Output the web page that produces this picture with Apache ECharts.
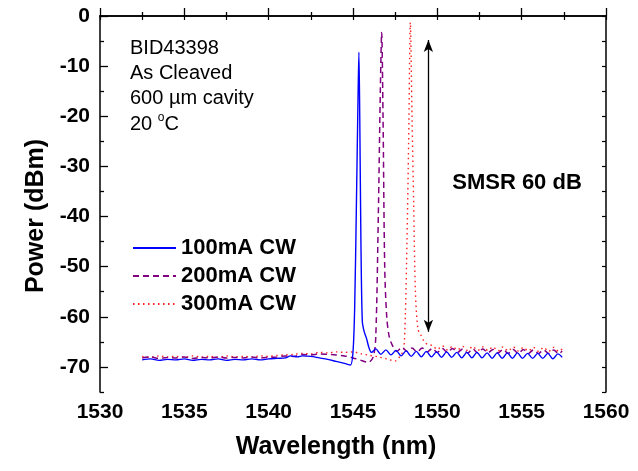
<!DOCTYPE html>
<html>
<head>
<meta charset="utf-8">
<script src="https://cdn.jsdelivr.net/npm/echarts@6/dist/echarts.min.js"></script>
<style>html,body{margin:0;padding:0;background:#fff;}#c{width:638px;height:471px;}</style>
</head>
<body>
<div id="c"></div>
<script>
// ---- data ----
const seriesNames = ['100mA CW', '200mA CW', '300mA CW'];

const wl100 = [1532.5,1533.0,1533.5,1534.0,1534.5,1535.0,1535.5,1536.0,1536.5,1537.0,1537.5,1538.0,1538.5,1539.0,1539.5,1540.0,1540.5,1541.0,1541.3,1541.7,1542.0,1542.5,1543.0,1543.5,1544.0,1544.5,1544.85,1545.0,1545.1,1545.2,1545.3,1545.35,1545.4,1545.47,1545.55,1545.65,1545.8,1545.95,1546.1,
  1546.35,1546.65,1546.95,1547.25,1547.55,1547.85,1548.15,1548.45,1548.75,1549.05,1549.35,1549.65,1549.95,1550.25,1550.55,1550.85,1551.15,1551.45,1551.75,1552.05,1552.35,1552.65,1552.95,1553.25,1553.55,1553.85,1554.15,1554.45,1554.75,1555.05,1555.35,1555.65,1555.95,1556.25,1556.55,1556.85,1557.15,1557.4];
const p100 = [-68.6,-68.4,-68.7,-68.5,-68.6,-68.4,-68.7,-68.5,-68.6,-68.4,-68.7,-68.5,-68.6,-68.4,-68.6,-68.4,-68.3,-68.2,-67.8,-68.0,-67.8,-67.9,-68.2,-68.5,-68.9,-69.3,-69.6,-67.0,-58.0,-38.0,-16.0,-7.2,-20.0,-45.0,-60.8,-62.8,-64.3,-66.2,-67.1,
  -66.4,-67.5,-66.6,-67.6,-66.7,-67.8,-66.8,-67.9,-66.9,-68.0,-66.9,-68.0,-67.0,-68.1,-67.0,-68.1,-67.1,-68.2,-67.1,-68.2,-67.1,-68.2,-67.2,-68.3,-67.2,-68.3,-67.2,-68.3,-67.2,-68.3,-67.3,-68.3,-67.3,-68.3,-67.3,-68.4,-67.4,-68.1];

const wl200 = [1532.5,1533.0,1533.5,1534.0,1534.5,1535.0,1535.5,1536.0,1536.5,1537.0,1537.5,1538.0,1538.5,1539.0,1539.5,1540.0,1540.5,1541.0,1541.5,1542.0,1542.5,1543.0,1543.5,1544.0,1544.5,1545.0,1545.5,1545.9,1546.2,1546.35,1546.5,1546.62,1546.7,1546.78,1546.88,1547.0,1547.15,1547.35,
  1547.6,1547.9,1548.2,1548.5,1548.8,1549.1,1549.4,1549.7,1550.0,1550.3,1550.6,1550.9,1551.2,1551.5,1551.8,1552.1,1552.4,1552.7,1553.0,1553.3,1553.6,1553.9,1554.2,1554.5,1554.8,1555.1,1555.4,1555.7,1556.0,1556.3,1556.6,1556.9,1557.2,1557.4];
const p200 = [-68.2,-68.0,-68.3,-68.1,-68.2,-68.0,-68.3,-68.1,-68.2,-68.0,-68.2,-68.1,-68.2,-68.0,-68.2,-68.1,-68.0,-67.8,-67.9,-67.5,-67.6,-67.4,-67.5,-67.6,-67.8,-68.2,-68.7,-69.1,-68.0,-64.0,-40.0,-15.0,-3.3,-20.0,-50.0,-60.0,-64.0,-65.8,
  -66.9,-66.1,-66.9,-66.2,-67.0,-66.2,-67.0,-66.3,-67.1,-66.3,-67.1,-66.3,-67.1,-66.4,-67.2,-66.4,-67.2,-66.4,-67.2,-66.5,-67.2,-66.5,-67.3,-66.5,-67.3,-66.5,-67.3,-66.6,-67.3,-66.6,-67.3,-66.6,-67.4,-66.8];

const wl300 = [1532.5,1533.0,1533.5,1534.0,1534.5,1535.0,1535.5,1536.0,1536.5,1537.0,1537.5,1538.0,1538.5,1539.0,1539.5,1540.0,1540.5,1541.0,1541.5,1542.0,1542.5,1543.0,1543.5,1544.0,1544.5,1545.0,1545.5,1546.0,1546.5,1547.0,1547.5,1547.8,1548.0,1548.1,1548.2,1548.3,1548.4,1548.5,1548.6,1548.7,1548.85,1549.0,1549.2,1549.45,1549.7,
  1550.0,1550.3,1550.6,1550.9,1551.2,1551.5,1551.8,1552.1,1552.4,1552.7,1553.0,1553.3,1553.6,1553.9,1554.2,1554.5,1554.8,1555.1,1555.4,1555.7,1556.0,1556.3,1556.6,1556.9,1557.2,1557.4];
const p300 = [-67.9,-68.1,-67.8,-68.0,-67.9,-68.1,-67.8,-68.0,-67.9,-68.1,-67.8,-68.0,-67.9,-68.0,-67.8,-67.9,-67.7,-67.6,-67.5,-67.3,-67.4,-67.1,-67.2,-67.0,-67.1,-67.0,-67.4,-67.7,-68.0,-68.4,-68.8,-67.8,-66.5,-60.0,-45.0,-25.0,-1.3,-20.0,-38.0,-55.0,-62.5,-63.5,-64.8,-65.6,-65.7,
  -66.5,-65.8,-66.6,-65.9,-66.6,-65.9,-66.7,-65.9,-66.7,-66.0,-66.7,-66.0,-66.8,-66.0,-66.8,-66.0,-66.8,-66.1,-66.8,-66.1,-66.9,-66.1,-66.9,-66.1,-66.9,-66.4];

// SMSR arrow: wavelength, bottom power, top power
const smsrArrowX = 1549.47;
const smsrArrowY = [-63, -4.8];

const xTicks = [1530, 1535, 1540, 1545, 1550, 1555, 1560];
const yTicks = [-70, -60, -50, -40, -30, -20, -10, 0];
const yMinorTicks = [-75, -65, -55, -45, -35, -25, -15, -5];
const annotLines = ['BID43398', 'As Cleaved', '600 µm cavity'];

// ---- chart ----
const FF = 'Arial, "Liberation Sans", sans-serif';
const zip = (a, b) => a.map((v, i) => [v, b[i]]);
const chart = echarts.init(document.getElementById('c'), null, {renderer: 'canvas'});

const axLine = {show: true, lineStyle: {color: '#000', width: 1.5}};
const option = {
  animation: false,
  backgroundColor: '#fff',
  grid: {left: 100, right: 32, top: 16, bottom: 79, containLabel: false},
  legend: {
    orient: 'vertical', left: 132, top: 237, padding: 0,
    itemWidth: 43, itemHeight: 14, itemGap: 6,
    itemStyle: {opacity: 0},
    textStyle: {fontFamily: FF, fontWeight: 'bold', fontSize: 22, color: '#000', lineHeight: 22},
    data: seriesNames
  },
  xAxis: [
    {type: 'value', position: 'bottom', min: xTicks[0], max: xTicks[xTicks.length - 1], interval: 5,
      axisLine: axLine,
      axisTick: {show: true, inside: true, length: 8, lineStyle: {color: '#000', width: 1.3}},
      minorTick: {show: true, splitNumber: 2, length: 4, lineStyle: {color: '#000', width: 1.3}},
      axisLabel: {fontFamily: FF, fontWeight: 'bold', fontSize: 21, color: '#000', margin: 10,
        formatter: v => String(v)},
      splitLine: {show: false}},
    {type: 'value', position: 'top', min: xTicks[0], max: xTicks[xTicks.length - 1], interval: 2.5,
      axisLine: axLine,
      axisTick: {show: true, inside: true, length: 4, lineStyle: {color: '#000', width: 1.2}},
      axisLabel: {show: false}, splitLine: {show: false}}
  ],
  yAxis: [
    {type: 'value', position: 'left', min: -75, max: 0,
      axisLine: axLine,
      axisTick: {show: true, inside: true, length: 8, customValues: yTicks, lineStyle: {color: '#000', width: 1.3}},
      axisLabel: {customValues: yTicks, fontFamily: FF, fontWeight: 'bold', fontSize: 21, color: '#000', margin: 10},
      splitLine: {show: false}},
    {type: 'value', position: 'left', min: -75, max: 0,
      axisLine: {show: false},
      axisTick: {show: true, inside: true, length: 4, customValues: yMinorTicks, lineStyle: {color: '#000', width: 1.3}},
      axisLabel: {show: false}, splitLine: {show: false}},
    {type: 'value', position: 'right', min: -75, max: 0, interval: 5,
      axisLine: axLine,
      axisTick: {show: true, inside: true, length: 4, lineStyle: {color: '#000', width: 1.2}},
      axisLabel: {show: false}, splitLine: {show: false}}
  ],
  series: [
    {name: seriesNames[0], type: 'line', data: zip(wl100, p100), showSymbol: false, symbol: 'none', smooth: 0.3,
      color: '#0000ff', lineStyle: {color: '#0000ff', width: 1.4, type: 'solid'}, z: 5,
      markLine: {silent: true, symbol: ['arrow', 'arrow'], symbolSize: [7, 12],
        lineStyle: {color: '#000', width: 1.3, type: 'solid'}, label: {show: false},
        data: [[{coord: [smsrArrowX, smsrArrowY[0]]}, {coord: [smsrArrowX, smsrArrowY[1]]}]]}},
    {name: seriesNames[1], type: 'line', data: zip(wl200, p200), showSymbol: false, symbol: 'none', smooth: 0.3,
      color: '#800080', lineStyle: {color: '#800080', width: 1.5, type: [6, 4]}, z: 4},
    {name: seriesNames[2], type: 'line', data: zip(wl300, p300), showSymbol: false, symbol: 'none', smooth: 0.3,
      color: '#ff2020', lineStyle: {color: '#ff2020', width: 1.4, type: [1.5, 3.5]}, z: 3}
  ],
  graphic: [
    ...annotLines.map((t, i) => ({type: 'text', x: 130, y: 48 + 25 * i,
      style: {text: t, fontFamily: FF, fontSize: 20, fill: '#000', textVerticalAlign: 'middle'}})),
    {type: 'text', x: 130, y: 124,
      style: {text: '20 {s|o}C', fontFamily: FF, fontSize: 20, fill: '#000', textVerticalAlign: 'middle',
        rich: {s: {fontFamily: FF, fontSize: 12, verticalAlign: 'top', padding: [0, 0, 12, 0]}}}},
    {type: 'text', x: 517, y: 183,
      style: {text: 'SMSR 60 dB', fontFamily: FF, fontWeight: 'bold', fontSize: 22, fill: '#000', textAlign: 'center', textVerticalAlign: 'middle'}},
    {type: 'text', x: 336, y: 447,
      style: {text: 'Wavelength (nm)', fontFamily: FF, fontWeight: 'bold', fontSize: 25, fill: '#000', textAlign: 'center', textVerticalAlign: 'middle'}},
    {type: 'text', x: 36, y: 216, rotation: Math.PI / 2,
      style: {text: 'Power (dBm)', fontFamily: FF, fontWeight: 'bold', fontSize: 25, fill: '#000', textAlign: 'center', textVerticalAlign: 'middle'}}
  ]
};
chart.setOption(option);
</script>
</body>
</html>
